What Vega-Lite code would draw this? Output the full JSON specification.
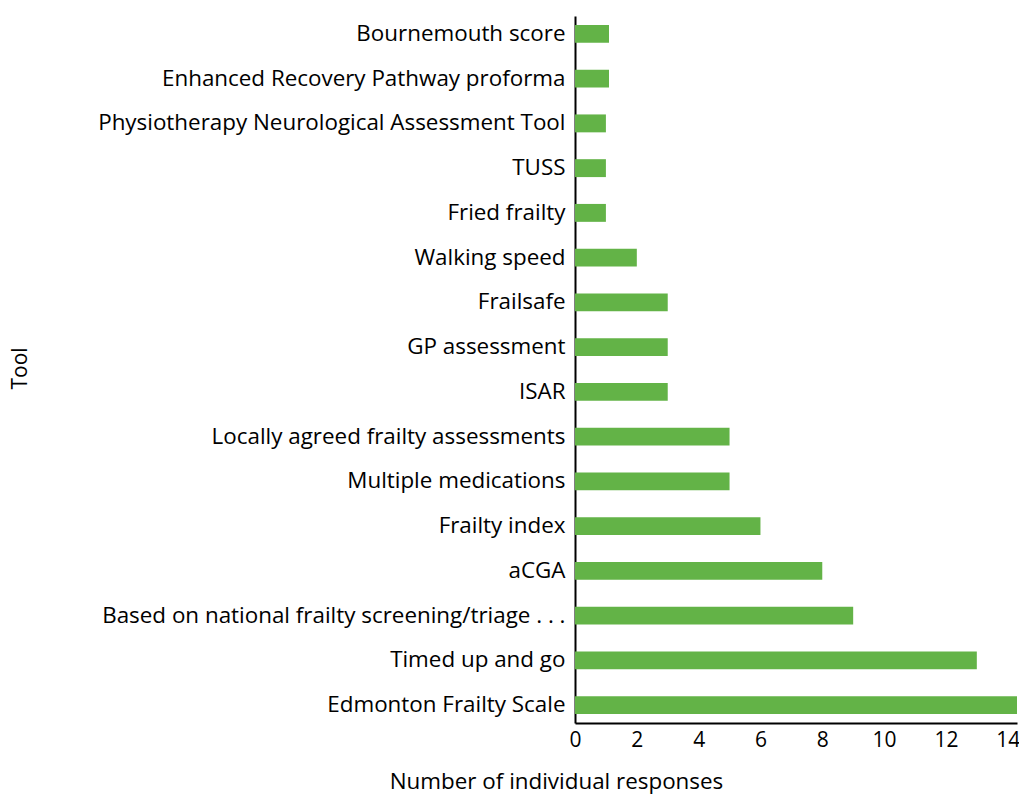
{
  "$schema": "https://vega.github.io/schema/vega-lite/v6.json",
  "autosize": {"type": "none"},
  "padding": {"left": 575, "top": 16, "right": 2, "bottom": 71},
  "width": 442,
  "height": 707,
  "config": {
    "view": {"stroke": null},
    "font": "Open Sans",
    "axis": {"labelFont": "Open Sans", "titleFont": "Open Sans", "labelColor": "#000", "titleColor": "#000", "titleFontWeight": "normal", "domainColor": "#000", "domainWidth": 2}
  },
  "data": {
    "values": [
      {"tool": "Bournemouth score", "n": 1.1},
      {"tool": "Enhanced Recovery Pathway proforma", "n": 1.1},
      {"tool": "Physiotherapy Neurological Assessment Tool", "n": 1},
      {"tool": "TUSS", "n": 1},
      {"tool": "Fried frailty", "n": 1},
      {"tool": "Walking speed", "n": 2},
      {"tool": "Frailsafe", "n": 3},
      {"tool": "GP assessment", "n": 3},
      {"tool": "ISAR", "n": 3},
      {"tool": "Locally agreed frailty assessments", "n": 5},
      {"tool": "Multiple medications", "n": 5},
      {"tool": "Frailty index", "n": 6},
      {"tool": "aCGA", "n": 8},
      {"tool": "Based on national frailty screening/triage . . .", "n": 9},
      {"tool": "Timed up and go", "n": 13},
      {"tool": "Edmonton Frailty Scale", "n": 14.3}
    ]
  },
  "mark": {"type": "bar", "color": "#63b347"},
  "encoding": {
    "y": {
      "field": "tool", "type": "nominal", "sort": null,
      "scale": {"paddingInner": 0.6, "paddingOuter": 0.2},
      "axis": {"title": "Tool", "ticks": false, "labelFontSize": 22.4, "labelPadding": 10, "labelLimit": 600,
               "titleFontSize": 21, "titleX": -555, "titleY": 352, "titleAnchor": null, "titleAlign": "center", "titleBaseline": "middle", "titleAngle": -90}
    },
    "x": {
      "field": "n", "type": "quantitative",
      "scale": {"domain": [0, 14.3], "nice": false, "zero": true},
      "axis": {"title": "Number of individual responses", "ticks": false, "grid": false, "values": [0,2,4,6,8,10,12,14], "labelFontSize": 21, "labelPadding": 6, "labelFlush": false,
               "titleFontSize": 22.4, "titleX": -19, "titleY": 58, "titleAnchor": null, "titleAlign": "center", "titleBaseline": "middle"}
    }
  }
}
